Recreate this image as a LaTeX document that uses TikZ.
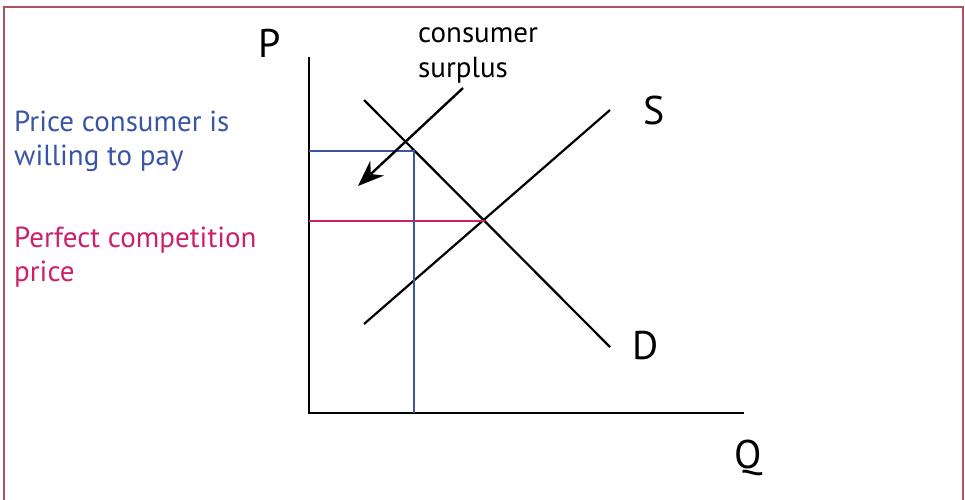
\documentclass[tikz,border=0pt]{standalone}
\usepackage{fontspec}
\setmainfont{PT Sans}
\usepackage{tikz}
\usetikzlibrary{arrows.meta, positioning, calc}

\definecolor{wtpblue}{RGB}{58,85,164}
\definecolor{pcpink}{RGB}{206,32,106}
\definecolor{framered}{RGB}{176,80,100}

\begin{document}
\begin{tikzpicture}[
    x=1pt, y=-1pt,
    curve/.style={line width=2.2pt, black},
    axis/.style={line width=2.4pt, black},
    guide/.style={line width=2.2pt},
    axlabel/.style={font=\fontsize{40}{44}\selectfont, inner sep=0pt},
    sidetext/.style={font=\fontsize{29}{34}\selectfont, align=left, anchor=north west, inner sep=0pt},
    pointer/.style={-{Stealth[length=26pt, width=20pt]}, line width=2.4pt},
]
  \useasboundingbox (0,0) rectangle (965,499);
  \draw[framered, line width=1.2pt] (4,505) -- (4,7) -- (963,7) -- (963,505);

  % axes
  \coordinate (orig) at (309,413);
  \coordinate (ptop) at (309,57);
  \coordinate (qend) at (744,413);
  \draw[axis] (ptop) -- (orig) -- (qend);
  \node[axlabel] (plab) at (270,43) {P};
  \node[axlabel] (qlab) at (748,458) {Q};

  % demand and supply
  \coordinate (d1) at (364,100);
  \coordinate (d2) at (610,347);
  \coordinate (s1) at (364,324);
  \coordinate (s2) at (610,110);
  \draw[curve] (d1) -- (d2);
  \draw[curve] (s1) -- (s2);
  \node[axlabel] (slab) at (654,110) {S};
  \node[axlabel] (dlab) at (646,346) {D};

  % price levels
  \coordinate (eq) at (485,221);
  \coordinate (pc) at (309,221);
  \coordinate (wtp) at (309,151);
  \coordinate (wtpd) at (414,151);
  \coordinate (wtpq) at (414,413);
  \draw[guide, pcpink] (pc) -- (eq);
  \draw[guide, wtpblue] (wtp) -- (wtpd) -- (wtpq);

  \node[sidetext, text=wtpblue] (wtptext) at (14,111) {Price consumer is\\willing to pay};
  \node[sidetext, text=pcpink] (pctext) at (14,227) {Perfect competition\\price};

  % consumer surplus pointer
  \node[sidetext, font=\fontsize{29}{35}\selectfont] (cstext) at (418,27) {consumer\\surplus};
  \coordinate (cs0) at (463,88);
  \coordinate (cs1) at (358,186);
  \draw[pointer] (cs0) -- (cs1);
\end{tikzpicture}
\end{document}
